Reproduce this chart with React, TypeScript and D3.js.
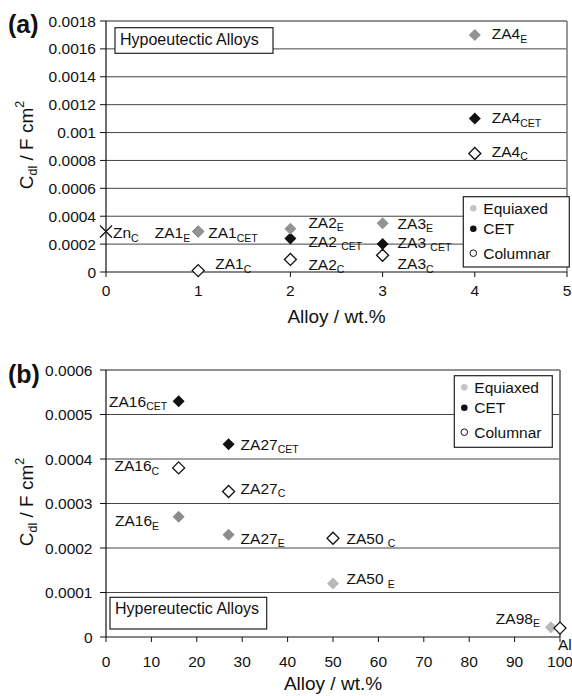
import React from "react";
import * as d3 from "d3";

// ---------- Panel (a): hypoeutectic alloys ----------
const aXTicks = [0, 1, 2, 3, 4, 5];
const aYTicks = [0, 0.0002, 0.0004, 0.0006, 0.0008, 0.001, 0.0012, 0.0014, 0.0016, 0.0018];
const aYTickLabels = ["0", "0.0002", "0.0004", "0.0006", "0.0008", "0.001", "0.0012", "0.0014", "0.0016", "0.0018"];

const aEquiaxedAlloy = [1, 2, 3, 4];
const aEquiaxedCdl = [0.00029, 0.00031, 0.00035, 0.0017];
const aEquiaxedName = ["ZA1", "ZA2", "ZA3", "ZA4"];

const aCetAlloy = [1, 2, 3, 4];
const aCetCdl = [0.00029, 0.00024, 0.0002, 0.0011];
const aCetName = ["ZA1", "ZA2 ", "ZA3 ", "ZA4"];

const aColAlloy = [1, 2, 3, 4];
const aColCdl = [0.00001, 0.00009, 0.00012, 0.00085];
const aColName = ["ZA1", "ZA2", "ZA3", "ZA4"];

const aZnAlloy = [0];
const aZnCdl = [0.00029];
const aZnName = ["Zn"];

// ---------- Panel (b): hypereutectic alloys ----------
const bXTicks = [0, 10, 20, 30, 40, 50, 60, 70, 80, 90, 100];
const bYTicks = [0, 0.0001, 0.0002, 0.0003, 0.0004, 0.0005, 0.0006];
const bYTickLabels = ["0", "0.0001", "0.0002", "0.0003", "0.0004", "0.0005", "0.0006"];

const bEquiaxedAlloy = [16, 27, 50, 98];
const bEquiaxedCdl = [0.00027, 0.00023, 0.00012, 0.000022];
const bEquiaxedName = ["ZA16", "ZA27", "ZA50 ", "ZA98"];

const bCetAlloy = [16, 27];
const bCetCdl = [0.00053, 0.000433];
const bCetName = ["ZA16", "ZA27"];

const bColAlloy = [16, 27, 50, 100];
const bColCdl = [0.00038, 0.000327, 0.000222, 0.00002];
const bColName = ["ZA16", "ZA27", "ZA50 ", "Al"];
const bColSub = ["C", "C", "C", ""];

const legendLabels = ["Equiaxed", "CET", "Columnar"];

// ---------- layout / style (not data) ----------
const FONT = "'Liberation Sans', Arial, Helvetica, sans-serif";
// label offsets: [dx, dy (centre of caps relative to marker), anchor]
const aEquiaxedLab: [number, number, string][] = [[-8, 1, "end"], [18, -6.5, "start"], [15, 0, "start"], [17, -1, "start"]];
const aCetLab: [number, number, string][] = [[10, 1, "start"], [18, 2.5, "start"], [15, -2, "start"], [17, -1, "start"]];
const aColLab: [number, number, string][] = [[17, -7, "start"], [18, 5, "start"], [15, 8.5, "start"], [17, -2, "start"]];
const aZnLab: [number, number, string][] = [[7, 1, "start"]];
const bEquiaxedLab: [number, number, string][] = [[-19.5, 4, "end"], [12, 3.5, "start"], [13.5, -5, "start"], [-11, -9, "end"]];
const bCetLab: [number, number, string][] = [[-11.5, 0, "end"], [12, 0, "start"]];
const bColLab: [number, number, string][] = [[-19.5, -2, "end"], [12, -3, "start"], [13.5, 0, "start"], [-2, 16, "start"]];
const bEquiaxedFill = ["#8c8c8c", "#8c8c8c", "#b8b8b8", "#b8b8b8"];

type Pt = { x: number; y: number; name: string; sub: string; kind: string; fill?: string; lab: [number, number, string] };

function mk(xs: number[], ys: number[], names: string[], sub: string | string[], kind: string, lab: [number, number, string][], fills?: string[]): Pt[] {
  return xs.map((x, i) => ({
    x,
    y: ys[i],
    name: names[i],
    sub: Array.isArray(sub) ? sub[i] : sub,
    kind,
    fill: fills ? fills[i] : undefined,
    lab: lab[i],
  }));
}

const Label = ({ x, y, p }: { x: number; y: number; p: Pt }) => (
  <text
    x={x + p.lab[0]}
    y={y + p.lab[1] + 5.5}
    textAnchor={p.lab[2] as any}
    fontSize={15.5}
    fontFamily={FONT}
    fill="#111"
  >
    <tspan>{p.name}</tspan>
    {p.sub ? (
      <tspan fontSize={10.5} dy={3.5}>
        {p.sub}
      </tspan>
    ) : null}
  </text>
);

const Marker = ({ x, y, p, eqFill }: { x: number; y: number; p: Pt; eqFill: string }) => {
  const s = 6;
  const d = `M${x},${y - s}L${x + s},${y}L${x},${y + s}L${x - s},${y}Z`;
  if (p.kind === "X") {
    return (
      <path d={`M${x - 6},${y - 6}L${x + 6},${y + 6}M${x - 6},${y + 6}L${x + 6},${y - 6}`} stroke="#111" strokeWidth={1.3} />
    );
  }
  if (p.kind === "E") return <path d={d} fill={p.fill || eqFill} stroke="none" />;
  if (p.kind === "CET") return <path d={d} fill="#111" stroke="none" />;
  return <path d={d} fill="#fff" stroke="#111" strokeWidth={1.3} />;
};

type PanelCfg = {
  left: number;
  right: number;
  top: number;
  bottom: number;
  xDomain: [number, number];
  yDomain: [number, number];
  xTicks: number[];
  yTicks: number[];
  yTickLabels: string[];
  yLabelEnd: number;
  xLabelOff: number;
  xTitleY: number;
  yTitleCy: number;
  tag: string;
  tagY: number;
  boxText: string;
  box: [number, number, number, number];
  boxTextPos: [number, number];
  legend: [number, number, number, number];
  points: Pt[];
  eqFill: string;
  rightStroke: number;
};

const Panel = ({ c }: { c: PanelCfg }) => {
  const x = d3.scaleLinear().domain(c.xDomain).range([c.left, c.right]);
  const y = d3.scaleLinear().domain(c.yDomain).range([c.bottom, c.top]);
  const legendY = [17, 37.5, 62];
  return (
    <g fontFamily={FONT}>
      {/* grid */}
      {c.yTicks.slice(1).map((t, i) => (
        <line key={"g" + i} x1={c.left} x2={c.right} y1={y(t)} y2={y(t)} stroke={i === c.yTicks.length - 2 ? "#222" : "#444"} strokeWidth={1} />
      ))}
      {/* right border */}
      <line x1={c.right} x2={c.right} y1={c.top} y2={c.bottom} stroke="#808080" strokeWidth={c.rightStroke} />
      {/* axes */}
      <line x1={c.left} x2={c.left} y1={c.top} y2={c.bottom} stroke="#111" strokeWidth={1.2} />
      <line x1={c.left} x2={c.right} y1={c.bottom} y2={c.bottom} stroke="#111" strokeWidth={1.2} />
      {c.yTicks.map((t, i) => (
        <g key={"yt" + i}>
          <line x1={c.left - 6} x2={c.left} y1={y(t)} y2={y(t)} stroke="#111" strokeWidth={1} />
          <text x={c.yLabelEnd} y={y(t) + 5.5} textAnchor="end" fontSize={15.5} fill="#111">
            {c.yTickLabels[i]}
          </text>
        </g>
      ))}
      {c.xTicks.map((t, i) => (
        <g key={"xt" + i}>
          <line x1={x(t)} x2={x(t)} y1={c.bottom} y2={c.bottom + 5} stroke="#111" strokeWidth={1} />
          <text x={x(t)} y={c.bottom + c.xLabelOff} textAnchor="middle" fontSize={15.5} fill="#111">
            {t}
          </text>
        </g>
      ))}
      {/* axis titles */}
      <text x={(c.left + c.right) / 2 + 0} y={c.xTitleY} textAnchor="middle" fontSize={19} fill="#111">
        Alloy / wt.%
      </text>
      <text transform={`translate(33,${c.yTitleCy}) rotate(-90)`} textAnchor="middle" fontSize={19} fill="#111">
        <tspan>C</tspan>
        <tspan fontSize={12.5} dy={4}>dl</tspan>
        <tspan dy={-4}> / F cm</tspan>
        <tspan fontSize={12.5} dy={-9}>2</tspan>
      </text>
      {/* panel tag */}
      <text x={8} y={c.tagY} fontSize={25} fontWeight="bold" fill="#111">
        {c.tag}
      </text>
      {/* title box */}
      <rect x={c.box[0]} y={c.box[1]} width={c.box[2]} height={c.box[3]} fill="#fff" stroke="#222" strokeWidth={1.2} />
      <text x={c.boxTextPos[0]} y={c.boxTextPos[1]} fontSize={16} fill="#111">
        {c.boxText}
      </text>
      {/* points */}
      {c.points.map((p, i) => (
        <Marker key={"m" + i} x={x(p.x)} y={y(p.y)} p={p} eqFill={c.eqFill} />
      ))}
      {c.points.map((p, i) => (
        <Label key={"l" + i} x={x(p.x)} y={y(p.y)} p={p} />
      ))}
      {/* legend */}
      <rect x={c.legend[0]} y={c.legend[1]} width={c.legend[2]} height={c.legend[3]} fill="#fff" stroke="#222" strokeWidth={1.2} />
      {legendLabels.map((l, i) => (
        <g key={"lg" + i}>
          <circle
            cx={c.legend[0] + 10}
            cy={c.legend[1] + legendY[i] - 5.5}
            r={3.3}
            fill={i === 0 ? "#c4c4c4" : i === 1 ? "#111" : "#fff"}
            stroke={i === 2 ? "#111" : "none"}
            strokeWidth={1}
          />
          <text x={c.legend[0] + 20} y={c.legend[1] + legendY[i]} fontSize={15.5} fill="#111">
            {l}
          </text>
        </g>
      ))}
    </g>
  );
};

const panelA: PanelCfg = {
  left: 106,
  right: 567,
  top: 21,
  bottom: 272,
  xDomain: [0, 5],
  yDomain: [0, 0.0018],
  xTicks: aXTicks,
  yTicks: aYTicks,
  yTickLabels: aYTickLabels,
  yLabelEnd: 96,
  xLabelOff: 24,
  xTitleY: 323,
  yTitleCy: 145,
  tag: "(a)",
  tagY: 33,
  boxText: "Hypoeutectic Alloys",
  box: [115, 27.7, 158, 25.6],
  boxTextPos: [120, 44.5],
  legend: [463.3, 196.7, 106, 70.3],
  points: [
    ...mk(aZnAlloy, aZnCdl, aZnName, "C", "X", aZnLab),
    ...mk(aCetAlloy, aCetCdl, aCetName, "CET", "CET", aCetLab),
    ...mk(aColAlloy, aColCdl, aColName, "C", "C", aColLab),
    ...mk(aEquiaxedAlloy, aEquiaxedCdl, aEquiaxedName, "E", "E", aEquiaxedLab),
  ],
  eqFill: "#939393",
  rightStroke: 1.6,
};

const panelB: PanelCfg = {
  left: 106,
  right: 560,
  top: 370,
  bottom: 637,
  xDomain: [0, 100],
  yDomain: [0, 0.0006],
  xTicks: bXTicks,
  yTicks: bYTicks,
  yTickLabels: bYTickLabels,
  yLabelEnd: 92.5,
  xLabelOff: 30,
  xTitleY: 690,
  yTitleCy: 502,
  tag: "(b)",
  tagY: 383,
  boxText: "Hypereutectic Alloys",
  box: [110, 597.3, 156.7, 31.7],
  boxTextPos: [115, 614],
  legend: [454.3, 375.7, 98, 71.6],
  points: [
    ...mk(bCetAlloy, bCetCdl, bCetName, "CET", "CET", bCetLab),
    ...mk(bEquiaxedAlloy, bEquiaxedCdl, bEquiaxedName, "E", "E", bEquiaxedLab, bEquiaxedFill),
    ...mk(bColAlloy, bColCdl, bColName, bColSub, "C", bColLab),
  ],
  eqFill: "#8c8c8c",
  rightStroke: 2,
};

export default function App() {
  return (
    <svg
      width={572}
      height={696}
      viewBox="0 0 572 696"
      style={{ position: "absolute", left: 0, top: 0, background: "#fff" }}
    >
      <rect width={572} height={696} fill="#fff" />
      <Panel c={panelA} />
      <Panel c={panelB} />
    </svg>
  );
}
